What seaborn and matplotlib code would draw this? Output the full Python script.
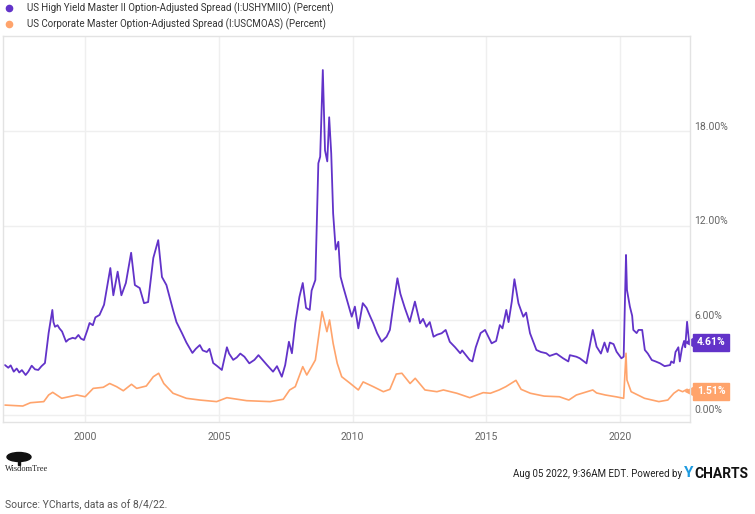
import pandas as pd
import seaborn as sns
import matplotlib.pyplot as plt
import matplotlib.transforms as mtransforms
from matplotlib.lines import Line2D
from matplotlib.patches import Ellipse, Rectangle

# values (percent)
hy_dates = ["1997-01-01", "1997-02-15", "1997-03-20", "1997-05-01", "1997-06-10", "1997-07-15",
            "1997-08-20", "1997-10-10", "1997-11-15", "1998-01-01", "1998-02-15", "1998-04-01",
            "1998-05-15", "1998-07-01", "1998-08-20", "1998-10-10", "1998-10-25", "1998-11-15",
            "1998-12-20", "1999-01-15", "1999-02-20", "1999-04-15", "1999-05-20", "1999-07-15",
            "1999-08-20", "1999-10-01", "1999-11-05", "1999-12-15", "2000-02-01", "2000-03-01",
            "2000-04-15", "2000-05-20", "2000-07-15", "2000-09-15", "2000-12-10", "2001-01-20",
            "2001-03-20", "2001-05-10", "2001-07-10", "2001-09-20", "2001-11-10", "2002-01-15",
            "2002-03-15", "2002-05-10", "2002-07-20", "2002-09-25", "2002-11-15", "2003-01-15",
            "2003-04-15", "2003-06-01", "2003-08-15", "2003-10-15", "2004-01-05", "2004-02-20",
            "2004-04-15", "2004-05-25", "2004-07-20", "2004-08-25", "2004-10-15", "2004-12-10",
            "2005-02-10", "2005-04-20", "2005-05-20", "2005-07-15", "2005-09-01", "2005-10-20",
            "2005-12-15", "2006-02-20", "2006-05-01", "2006-06-25", "2006-08-20", "2006-10-15",
            "2007-01-10", "2007-03-05", "2007-05-10", "2007-06-25", "2007-08-15", "2007-09-25",
            "2007-11-10", "2008-01-05", "2008-02-20", "2008-04-05", "2008-05-25", "2008-06-20",
            "2008-08-10", "2008-09-20", "2008-10-15", "2008-11-20", "2008-12-20", "2009-01-20",
            "2009-02-15", "2009-03-15", "2009-04-10", "2009-05-15", "2009-06-20", "2009-07-20",
            "2009-08-25", "2009-10-10", "2009-12-20", "2010-02-01", "2010-03-20", "2010-05-20",
            "2010-07-10", "2010-08-25", "2010-10-10", "2010-12-01", "2011-02-01", "2011-04-10",
            "2011-05-25", "2011-07-15", "2011-09-05", "2011-10-15", "2011-12-15", "2012-02-20",
            "2012-05-01", "2012-07-10", "2012-08-20", "2012-10-05", "2012-11-20", "2013-01-10",
            "2013-03-01", "2013-05-01", "2013-06-25", "2013-08-20", "2013-11-01", "2014-01-10",
            "2014-02-05", "2014-05-20", "2014-06-25", "2014-08-10", "2014-09-20", "2014-10-15",
            "2014-12-15", "2015-01-15", "2015-03-15", "2015-05-15", "2015-07-05", "2015-08-10",
            "2015-10-01", "2015-11-01", "2015-12-15", "2016-01-20", "2016-03-15", "2016-05-20",
            "2016-06-28", "2016-08-20", "2016-11-15", "2017-01-15", "2017-03-30", "2017-05-15",
            "2017-08-15", "2017-11-15", "2018-01-25", "2018-02-15", "2018-05-15", "2018-07-01",
            "2018-09-30", "2018-12-25", "2019-02-15", "2019-04-15", "2019-06-03", "2019-07-15",
            "2019-08-15", "2019-10-05", "2019-11-15", "2020-01-20", "2020-02-20", "2020-03-23",
            "2020-04-05", "2020-05-15", "2020-06-15", "2020-07-01", "2020-08-15", "2020-09-10",
            "2020-10-30", "2020-12-05", "2021-01-15", "2021-03-10", "2021-05-01", "2021-07-01",
            "2021-09-01", "2021-11-15", "2021-12-01", "2022-01-05", "2022-01-28", "2022-02-15",
            "2022-03-08", "2022-03-28", "2022-04-25", "2022-05-25", "2022-06-10", "2022-07-05",
            "2022-07-20", "2022-08-04"]
hy_values = [3.17, 3.0, 3.15, 2.75, 2.95, 2.7,
             2.85, 2.54, 2.75, 3.13, 2.9, 2.86,
             3.1, 3.3, 5.2, 6.67, 5.9, 5.6,
             5.7, 5.5, 5.3, 4.65, 4.8, 4.9,
             4.85, 5.08, 4.85, 4.76, 5.4, 5.84,
             5.7, 6.2, 6.35, 7.0, 9.33, 7.6,
             9.1, 7.6, 8.38, 10.3, 8.25, 8.06,
             7.1, 7.17, 9.97, 11.1, 8.76, 8.25,
             6.67, 5.9, 5.2, 4.6, 3.94, 4.2,
             4.44, 4.1, 4.0, 4.2, 3.3, 3.1,
             2.86, 4.3, 3.9, 3.5, 3.65, 3.9,
             3.7, 3.28, 3.5, 3.8, 3.5, 3.2,
             2.75, 3.1, 2.43, 3.17, 4.65, 3.92,
             5.84, 7.49, 8.38, 6.8, 6.67, 7.9,
             8.57, 15.98, 16.4, 21.9, 16.8, 16.1,
             18.9, 16.6, 12.8, 10.5, 11.0, 8.78,
             8.15, 7.4, 6.24, 6.88, 5.5, 7.1,
             6.8, 6.3, 5.82, 5.2, 4.65, 4.97,
             5.4, 7.09, 8.68, 7.7, 6.8, 5.92,
             7.2, 5.82, 6.1, 5.6, 5.9, 4.97,
             5.1, 5.19, 5.4, 4.65, 4.3, 3.92,
             4.1, 3.49, 3.4, 4.3, 4.87, 5.2,
             5.4, 5.1, 4.55, 4.7, 5.71, 5.5,
             6.67, 5.9, 7.2, 8.62, 7.09, 6.24,
             6.5, 5.19, 4.13, 4.0, 3.92, 3.75,
             3.9, 3.6, 3.4, 3.8, 3.7, 3.6,
             3.28, 5.4, 4.34, 3.9, 4.6, 4.0,
             4.6, 4.5, 4.02, 3.6, 3.7, 10.16,
             7.94, 6.88, 6.3, 5.4, 5.2, 5.4,
             5.4, 4.13, 3.9, 3.49, 3.4, 3.28,
             3.1, 3.17, 3.4, 3.3, 4.0, 4.13,
             4.3, 3.4, 4.2, 4.7, 4.3, 5.92,
             5.2, 4.61]

ig_dates = ["1997-01-01", "1997-09-01", "1997-12-15", "1998-06-15", "1998-08-20", "1998-10-15",
            "1999-02-15", "1999-09-10", "2000-01-01", "2000-04-20", "2000-09-05", "2000-12-01",
            "2001-03-05", "2001-06-05", "2001-09-25", "2001-12-05", "2002-04-15", "2002-07-20",
            "2002-10-01", "2002-12-10", "2003-04-15", "2003-10-15", "2004-04-15", "2004-12-01",
            "2005-04-20", "2006-01-15", "2006-12-01", "2007-05-30", "2007-08-25", "2007-11-10",
            "2008-02-20", "2008-04-15", "2008-06-20", "2008-08-10", "2008-11-10", "2009-01-15",
            "2009-02-20", "2009-04-10", "2009-06-05", "2009-08-05", "2009-12-01", "2010-03-20",
            "2010-05-25", "2010-10-10", "2011-02-25", "2011-05-25", "2011-08-20", "2011-11-05",
            "2012-02-25", "2012-05-05", "2012-09-15", "2013-02-25", "2013-05-25", "2013-11-25",
            "2014-05-20", "2014-11-20", "2015-02-25", "2015-06-25", "2015-09-25", "2016-02-10",
            "2016-04-20", "2016-08-25", "2017-03-01", "2017-09-25", "2018-02-01", "2018-05-15",
            "2018-12-25", "2019-02-15", "2019-06-15", "2019-11-15", "2020-02-20", "2020-03-23",
            "2020-04-05", "2020-06-01", "2020-12-01", "2021-06-15", "2021-10-15", "2022-01-05",
            "2022-03-10", "2022-05-05", "2022-07-05", "2022-08-04"]
ig_values = [0.63, 0.57, 0.78, 0.85, 1.27, 1.44,
             1.06, 1.27, 1.16, 1.69, 1.76, 2.0,
             1.8, 1.54, 1.95, 1.69, 1.84, 2.43,
             2.65, 2.0, 1.38, 1.06, 0.95, 0.85,
             1.1, 0.91, 0.85, 1.0, 1.59, 1.8,
             3.07, 2.54, 3.07, 3.49, 6.56, 5.29,
             6.03, 4.55, 3.28, 2.43, 2.0, 1.59,
             2.1, 1.8, 1.48, 1.63, 2.6, 2.65,
             2.0, 2.33, 1.59, 1.48, 1.59, 1.38,
             1.1, 1.42, 1.38, 1.59, 1.8, 2.2,
             1.63, 1.38, 1.2, 1.16, 0.95, 1.27,
             1.59, 1.4, 1.27, 1.15, 1.06, 3.92,
             2.22, 1.48, 1.06, 0.85, 0.95, 1.38,
             1.59, 1.48, 1.63, 1.51]

hy_name = "US High Yield Master II Option-Adjusted Spread (I:USHYMIIO) (Percent)"
ig_name = "US Corporate Master Option-Adjusted Spread (I:USCMOAS) (Percent)"
y_ticks = [0, 6, 12, 18]
x_years = [2000, 2005, 2010, 2015, 2020]

purple = "#6233c9"
orange = "#ffa46c"

hy = pd.DataFrame({"date": pd.to_datetime(hy_dates), "value": hy_values})
ig = pd.DataFrame({"date": pd.to_datetime(ig_dates), "value": ig_values})

sns.set_style("white")
plt.rcParams["font.family"] = ["Roboto", "DejaVu Sans"]

fig = plt.figure(figsize=(7.55, 5.14), dpi=100)
ax = fig.add_axes([3 / 755, 1 - 422 / 514, 687 / 755, 386 / 514])

sns.lineplot(data=ig, x="date", y="value", color=orange, lw=1.2, ax=ax, legend=False)
sns.lineplot(data=hy, x="date", y="value", color=purple, lw=1.3, ax=ax, legend=False)

ax.set_xlim(pd.Timestamp("1996-12-05"), pd.Timestamp("2022-08-14"))
ax.set_ylim(-0.444, 24.06)
ax.set_xlabel("")
ax.set_ylabel("")

ax.set_xticks([pd.Timestamp(f"{y}-01-01") for y in x_years])
ax.set_xticklabels([str(y) for y in x_years])
ax.set_yticks(y_ticks)
ax.set_yticklabels([f"{v:.2f}%" for v in y_ticks])
ax.yaxis.tick_right()
ax.tick_params(axis="both", length=0, labelsize=7.5, labelcolor="#666666")
ax.tick_params(axis="y", pad=3)
ax.tick_params(axis="x", pad=7)
up = mtransforms.ScaledTranslation(0, 4 / 72, fig.dpi_scale_trans)
for lbl in ax.get_yticklabels():
    lbl.set_transform(lbl.get_transform() + up)

ax.grid(True, color="#efefef", lw=1)
for s in ax.spines.values():
    s.set_color("#e3e3e3")
    s.set_linewidth(1)

# end-of-line value tags
for val, col in [(hy_values[-1], purple), (ig_values[-1], orange)]:
    ax.annotate(f"{val:.2f}%", xy=(1.0, val), xycoords=("axes fraction", "data"),
                xytext=(5, 0), textcoords="offset points", va="center", ha="left",
                fontsize=7.5, fontweight="bold", color="white", annotation_clip=False,
                bbox=dict(boxstyle="square,pad=0.35", fc=col, ec=col))
    ax.plot([1.0], [val], marker="<", ms=6.5, color=col, transform=ax.get_yaxis_transform(),
            clip_on=False)

# legend
for ypx, col, name in [(8, purple, hy_name), (24, orange, ig_name)]:
    fig.add_artist(Line2D([9 / 755], [1 - ypx / 514], marker="o", ms=4.5, color=col,
                          transform=fig.transFigure))
    fig.text(27 / 755, 1 - ypx / 514, name, fontsize=7, color="#333333", va="center")

# footer: small tree mark + wordmark
fig.add_artist(Ellipse((19 / 755, 1 - 457 / 514), 24 / 755, 9 / 514,
                       transform=fig.transFigure, color="#111111"))
fig.add_artist(Rectangle((18 / 755, 1 - 465 / 514), 2 / 755, 6 / 514,
                         transform=fig.transFigure, color="#111111"))
fig.text(5 / 755, 1 - 469 / 514, "WisdomTree", family="Liberation Serif", fontsize=6,
         color="#222222", va="center")
fig.text(682 / 755, 1 - 474 / 514, "Aug 05 2022, 9:36AM EDT. Powered by", fontsize=7,
         color="#222222", ha="right", va="center")
fig.text(684 / 755, 1 - 473 / 514, "Y", fontsize=11, fontweight="bold", color="#1e9be0",
         ha="left", va="center")
fig.text(694 / 755, 1 - 474 / 514, "CHARTS", fontsize=10, fontweight="bold",
         color="#111111", ha="left", va="center")
fig.text(5 / 755, 1 - 505 / 514, "Source: YCharts, data as of 8/4/22.", fontsize=7.5,
         color="#555555", va="center")

fig.savefig("out.png", dpi=100)
